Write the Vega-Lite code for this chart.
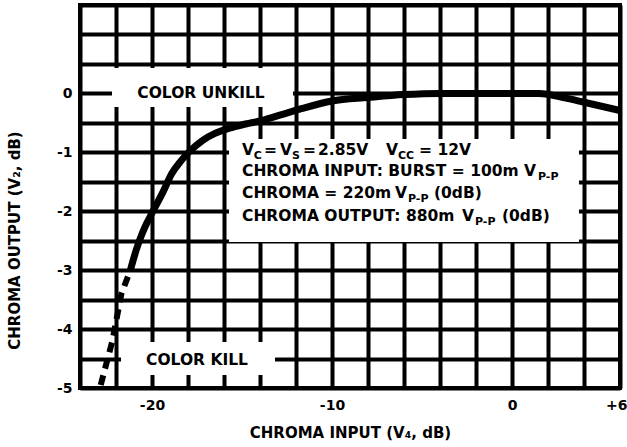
{
  "$schema": "https://vega.github.io/schema/vega-lite/v6.json",
  "width": 540,
  "height": 383,
  "autosize": {"type": "none"},
  "padding": {"left": 80, "top": 5, "right": 7, "bottom": 59},
  "background": "white",
  "config": {
    "view": {"stroke": "black", "strokeWidth": 4},
    "text": {"font": "DejaVu Sans", "fontWeight": "bold", "color": "black"}
  },
  "datasets": {
    "boxes": [
      {"x1": -22.222, "x2": -12.167, "y1": 0.431, "y2": -0.231},
      {"x1": -15.72, "x2": 3.72, "y1": -0.774, "y2": -2.522},
      {"x1": -21.722, "x2": -13.167, "y1": -4.22, "y2": -4.78}
    ],
    "big": [
      {"x": -17.278, "y": -0.078, "text": "COLOR UNKILL"},
      {"x": -17.5, "y": -4.61, "text": "COLOR KILL"}
    ],
    "notes": [
      {"x": -15, "y": -1.046, "text": "V"},
      {"x": -13.778, "y": -1.046, "text": "="},
      {"x": -12.889, "y": -1.046, "text": "V"},
      {"x": -11.611, "y": -1.046, "text": "="},
      {"x": -10.778, "y": -1.046, "text": "2.85V"},
      {"x": -7.0, "y": -1.046, "text": "V"},
      {"x": -5.167, "y": -1.046, "text": "= 12V"},
      {"x": -15, "y": -1.402, "text": "CHROMA INPUT: BURST = 100m"},
      {"x": 0.667, "y": -1.402, "text": "V"},
      {"x": -15, "y": -1.776, "text": "CHROMA = 220m"},
      {"x": -6.5, "y": -1.776, "text": "V"},
      {"x": -4.333, "y": -1.776, "text": "(0dB)"},
      {"x": -15, "y": -2.166, "text": "CHROMA OUTPUT: 880m"},
      {"x": -2.778, "y": -2.166, "text": "V"},
      {"x": -0.556, "y": -2.166, "text": "(0dB)"}
    ],
    "subs": [
      {"x": -14.35, "y": -1.046, "text": "C"},
      {"x": -12.222, "y": -1.046, "text": "S"},
      {"x": -6.333, "y": -1.046, "text": "CC"},
      {"x": 1.444, "y": -1.402, "text": "P-P"},
      {"x": -5.778, "y": -1.776, "text": "P-P"},
      {"x": -2.056, "y": -2.166, "text": "P-P"}
    ],
    "solid": [
      {"x": -21.2, "y": -3.0},
      {"x": -20.9, "y": -2.68},
      {"x": -20.6, "y": -2.42},
      {"x": -20.3, "y": -2.21},
      {"x": -20.0, "y": -2.03},
      {"x": -19.4, "y": -1.68},
      {"x": -18.9, "y": -1.36},
      {"x": -18.4, "y": -1.15},
      {"x": -17.9, "y": -0.98},
      {"x": -17.2, "y": -0.8},
      {"x": -16.5, "y": -0.68},
      {"x": -15.7, "y": -0.59},
      {"x": -14.8, "y": -0.52},
      {"x": -13.9, "y": -0.46},
      {"x": -12.8, "y": -0.36},
      {"x": -11.7, "y": -0.26},
      {"x": -10, "y": -0.13},
      {"x": -8, "y": -0.07},
      {"x": -6, "y": -0.02},
      {"x": -4, "y": 0},
      {"x": 0, "y": 0},
      {"x": 1.5, "y": 0},
      {"x": 3, "y": -0.08},
      {"x": 4, "y": -0.15},
      {"x": 6, "y": -0.29}
    ],
    "dashed": [
      {"x": -22.85, "y": -4.95},
      {"x": -22.2, "y": -4.2},
      {"x": -21.7, "y": -3.4},
      {"x": -21.2, "y": -3.0}
    ]
  },
  "encoding": {
    "x": {
      "field": "x",
      "type": "quantitative",
      "scale": {"domain": [-24, 6], "nice": false, "zero": false},
      "axis": {
        "values": [-24, -22, -20, -18, -16, -14, -12, -10, -8, -6, -4, -2, 0, 2, 4, 6],
        "grid": true, "gridColor": "black", "gridWidth": 4, "gridOpacity": 1,
        "ticks": false, "domain": false, "labelOverlap": false, "labelFlush": false,
        "labelExpr": "datum.value == 6 ? '+6' : (datum.value % 10 == 0 ? '' + datum.value : '')",
        "labelAlign": {"condition": {"test": "datum.value == 6", "value": "right"}, "value": "center"},
        "labelOffset": {"condition": {"test": "datum.value == 6", "value": 7}, "value": 0},
        "labelFont": "DejaVu Sans", "labelFontWeight": "bold", "labelFontSize": 14, "labelColor": "black",
        "labelPadding": 10,
        "title": "CHROMA INPUT (V₄, dB)",
        "titleFont": "DejaVu Sans", "titleFontWeight": "bold", "titleFontSize": 15, "titleColor": "black",
        "titleY": 44, "titleBaseline": "middle"
      }
    },
    "y": {
      "field": "y",
      "type": "quantitative",
      "scale": {"domain": [-5, 1.5], "nice": false, "zero": false},
      "axis": {
        "values": [-5, -4.5, -4, -3.5, -3, -2.5, -2, -1.5, -1, -0.5, 0, 0.5, 1, 1.5],
        "grid": true, "gridColor": "black", "gridWidth": 4, "gridOpacity": 1,
        "ticks": false, "domain": false, "labelOverlap": false, "labelFlush": false,
        "labelExpr": "datum.value <= 0 && datum.value % 1 == 0 ? '' + datum.value : ''",
        "labelFont": "DejaVu Sans", "labelFontWeight": "bold", "labelFontSize": 14, "labelColor": "black",
        "labelPadding": 8,
        "title": "CHROMA OUTPUT (V₂, dB)",
        "titleFont": "DejaVu Sans", "titleFontWeight": "bold", "titleFontSize": 15, "titleColor": "black",
        "titleX": -66, "titleY": 235, "titleBaseline": "middle", "titleAlign": "center"
      }
    }
  },
  "layer": [
    {
      "data": {"name": "boxes"},
      "mark": {"type": "rect", "fill": "white", "strokeWidth": 0},
      "encoding": {
        "x": {"field": "x1", "type": "quantitative"},
        "x2": {"field": "x2"},
        "y": {"field": "y1", "type": "quantitative"},
        "y2": {"field": "y2"}
      }
    },
    {
      "data": {"name": "big"},
      "mark": {"type": "text", "align": "center", "baseline": "alphabetic", "fontSize": 15.5},
      "encoding": {"text": {"field": "text"}}
    },
    {
      "data": {"name": "notes"},
      "mark": {"type": "text", "align": "left", "baseline": "alphabetic", "fontSize": 15.5},
      "encoding": {"text": {"field": "text"}}
    },
    {
      "data": {"name": "subs"},
      "mark": {"type": "text", "align": "left", "baseline": "alphabetic", "fontSize": 11, "dy": 4},
      "encoding": {"text": {"field": "text"}}
    },
    {
      "data": {"name": "solid"},
      "mark": {"type": "line", "color": "black", "strokeWidth": 7, "strokeCap": "butt", "interpolate": "monotone"},
      "encoding": {"order": {"field": "x", "type": "quantitative"}}
    },
    {
      "data": {"name": "dashed"},
      "mark": {"type": "line", "color": "black", "strokeWidth": 6, "strokeCap": "butt", "strokeDash": [10, 7]},
      "encoding": {"order": {"field": "x", "type": "quantitative"}}
    }
  ]
}
